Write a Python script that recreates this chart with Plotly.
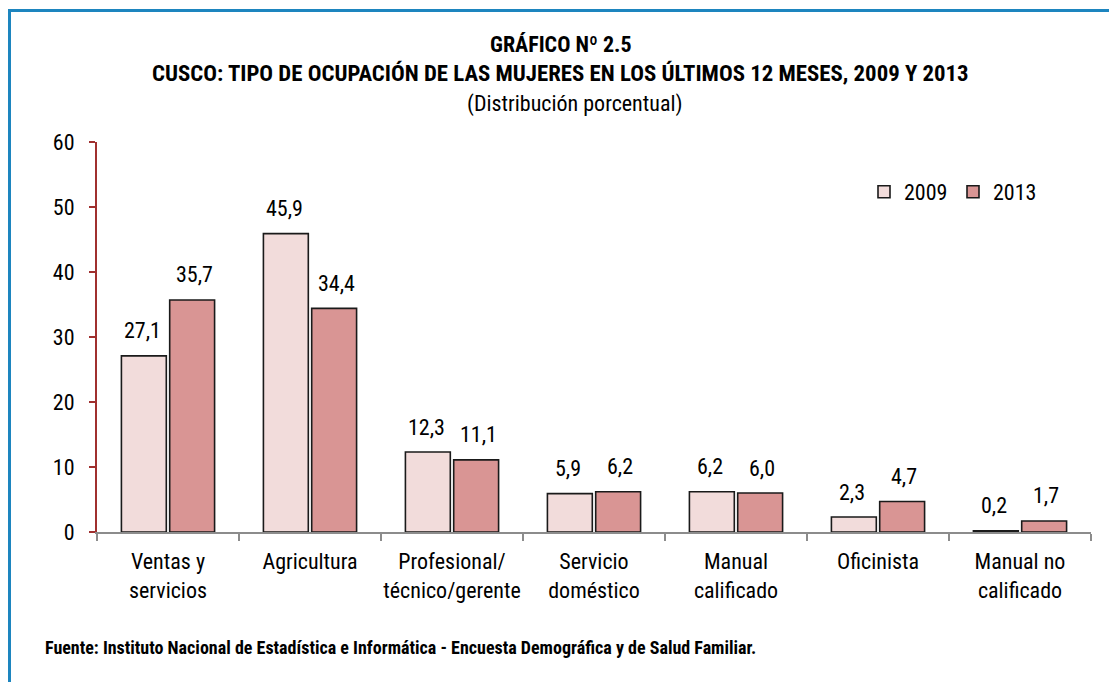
import plotly.graph_objects as go

categories = ["Ventas y<br>servicios", "Agricultura", "Profesional/<br>técnico/gerente",
              "Servicio<br>doméstico", "Manual<br>calificado", "Oficinista", "Manual no<br>calificado"]
v2009 = [27.1, 45.9, 12.3, 5.9, 6.2, 2.3, 0.2]
v2013 = [35.7, 34.4, 11.1, 6.2, 6.0, 4.7, 1.7]
series_names = ["2009", "2013"]
yticks = [0, 10, 20, 30, 40, 50, 60]

FONT = "Roboto Condensed, Arial Narrow, sans-serif"
C09 = "#F2DCDB"
C13 = "#D99594"
FS = 22

fig = go.Figure()
fig.add_trace(go.Bar(name=series_names[0], x=categories, y=v2009,
                     marker=dict(color=C09, line=dict(color="#1a1a1a", width=1.6))))
fig.add_trace(go.Bar(name=series_names[1], x=categories, y=v2013,
                     marker=dict(color=C13, line=dict(color="#1a1a1a", width=1.6))))

ann = []
for vals, xs in ((v2009, -26), (v2013, 26)):
    for c, v in zip(categories, vals):
        ann.append(dict(x=c, y=v, xref="x", yref="y", text=f"{v:.1f}".replace(".", ","),
                        showarrow=False, xshift=xs, yshift=25, yanchor="middle",
                        font=dict(family=FONT, size=FS, color="#000")))

# plot area in the browser window: x 97..1091, y 142..532
def px_x(p):
    return (p - 97) / 994

def px_y(p):
    return (532 - p) / 390

ann += [
    dict(x=px_x(561), y=px_y(44), xref="paper", yref="paper", text="<b>GRÁFICO Nº 2.5</b>", showarrow=False,
         font=dict(family=FONT, size=FS, color="#000"), xanchor="center", yanchor="middle"),
    dict(x=px_x(560), y=px_y(74), xref="paper", yref="paper",
         text="<b>CUSCO: TIPO DE OCUPACIÓN DE LAS MUJERES EN LOS ÚLTIMOS 12 MESES, 2009 Y 2013</b>", showarrow=False,
         font=dict(family=FONT, size=22.8, color="#000"), xanchor="center", yanchor="middle"),
    dict(x=px_x(575), y=px_y(104), xref="paper", yref="paper", text="(Distribución porcentual)", showarrow=False,
         font=dict(family=FONT, size=FS, color="#000"), xanchor="center", yanchor="middle"),
    dict(x=px_x(43), y=px_y(647), xref="paper", yref="paper",
         text="<b>Fuente: Instituto Nacional de Estadística e Informática - Encuesta Demográfica y de Salud Familiar.</b>",
         showarrow=False, font=dict(family=FONT, size=18, color="#000"), xanchor="left", yanchor="middle"),
]

fig.update_layout(
    width=1117, height=682, autosize=False,
    margin=dict(l=89, r=34, t=134, b=158),
    paper_bgcolor="white", plot_bgcolor="white",
    barmode="group", bargap=0.32, bargroupgap=0.07,
    separators=",.",
    font=dict(family=FONT, size=FS, color="#000"),
    showlegend=True,
    legend=dict(orientation="h", x=px_x(864), y=px_y(192), xanchor="left", yanchor="middle",
                font=dict(family=FONT, size=FS), bgcolor="rgba(0,0,0,0)", itemwidth=30,
                entrywidth=44, traceorder="normal"),
    annotations=ann,
    shapes=[dict(type="rect", xref="paper", yref="paper", x0=px_x(9.5), y0=px_y(700), x1=px_x(1140), y1=px_y(10.5),
                 line=dict(color="#1D85BF", width=3), fillcolor="rgba(0,0,0,0)", layer="below")],
)
fig.update_xaxes(showline=True, linecolor="#8c8c8c", linewidth=2, ticks="outside", tickson="boundaries",
                 ticklen=7, tickcolor="#8c8c8c", tickwidth=2, showgrid=False, ticklabelstandoff=9,
                 tickangle=0, tickfont=dict(family=FONT, size=FS, color="#000"))
fig.update_yaxes(range=[0, 60], tickvals=yticks, showline=True, linecolor="#A0302F", linewidth=2,
                 ticks="outside", ticklen=6, tickcolor="#A0302F", tickwidth=2, showgrid=False, zeroline=False,
                 tickfont=dict(family=FONT, size=FS, color="#000"), ticklabelstandoff=10)

fig.write_html("out.html")
